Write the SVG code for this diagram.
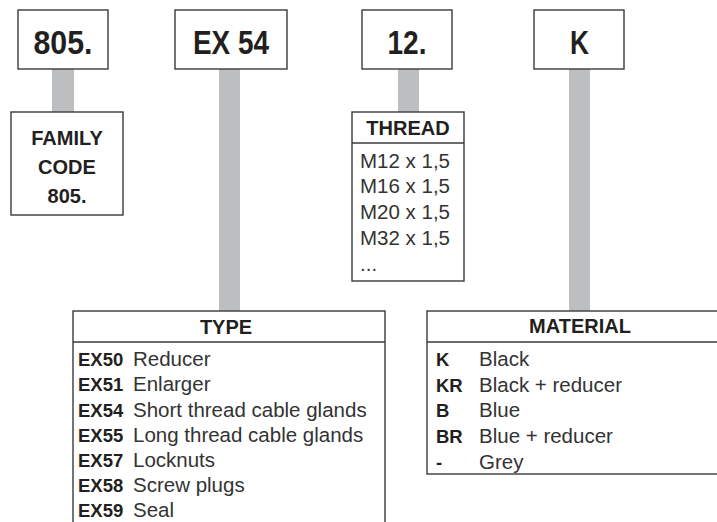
<svg xmlns="http://www.w3.org/2000/svg" width="717" height="522" viewBox="0 0 717 522">
<style>
.box{fill:#fff;stroke:#3a3a3a;stroke-width:1.4}
.bar{fill:#bcbec0}
.big{font-family:"Liberation Sans Narrow","Liberation Sans",Arial,sans-serif;font-weight:bold;font-size:34px;fill:#231f20;text-anchor:middle}
.hd{font-family:"Liberation Sans",Arial,sans-serif;font-weight:bold;font-size:20px;fill:#231f20;text-anchor:middle}
.cd{font-family:"Liberation Sans",Arial,sans-serif;font-weight:bold;font-size:18.5px;fill:#231f20}
.tx{font-family:"Liberation Sans",Arial,sans-serif;font-size:20.5px;fill:#333}
</style>
<g id="connectors">
<rect class="bar" x="52" y="69" width="22" height="43"/>
<rect class="bar" x="219" y="69" width="21" height="242"/>
<rect class="bar" x="398" y="69" width="21" height="43"/>
<rect class="bar" x="569" y="69" width="21" height="242"/>
</g>
<g id="code-805">
<rect class="box" x="18" y="10" width="90" height="59"/>
<text class="big" x="63" y="54" textLength="59" lengthAdjust="spacingAndGlyphs">805.</text>
</g>
<g id="code-ex54">
<rect class="box" x="175" y="10" width="112" height="59"/>
<text class="big" x="231" y="54" textLength="76" lengthAdjust="spacingAndGlyphs">EX 54</text>
</g>
<g id="code-12">
<rect class="box" x="362" y="10" width="90" height="59"/>
<text class="big" x="407" y="54" textLength="39" lengthAdjust="spacingAndGlyphs">12.</text>
</g>
<g id="code-k">
<rect class="box" x="534" y="10" width="90" height="59"/>
<text class="big" x="579.5" y="54" textLength="19" lengthAdjust="spacingAndGlyphs">K</text>
</g>
<g id="family">
<rect class="box" x="11" y="112" width="112" height="103"/>
<text class="hd" x="67" y="145">FAMILY</text>
<text class="hd" x="67" y="174">CODE</text>
<text class="hd" x="67" y="203">805.</text>
</g>
<g id="thread">
<rect class="box" x="352" y="112" width="112" height="169"/>
<line class="box" x1="352" y1="143" x2="464" y2="143"/>
<text class="hd" x="408" y="135">THREAD</text>
<text class="tx" x="360" y="168">M12 x 1,5</text>
<text class="tx" x="360" y="193">M16 x 1,5</text>
<text class="tx" x="360" y="219">M20 x 1,5</text>
<text class="tx" x="360" y="245">M32 x 1,5</text>
<text class="tx" x="360" y="271">...</text>
</g>
<g id="type">
<rect class="box" x="73" y="311" width="312" height="230"/>
<line class="box" x1="73" y1="342" x2="385" y2="342"/>
<text class="hd" x="226" y="334">TYPE</text>
<text x="78" y="366"><tspan class="cd">EX50</tspan><tspan class="tx" x="133">Reducer</tspan></text>
<text x="78" y="391"><tspan class="cd">EX51</tspan><tspan class="tx" x="133">Enlarger</tspan></text>
<text x="78" y="416.5"><tspan class="cd">EX54</tspan><tspan class="tx" x="133">Short thread cable glands</tspan></text>
<text x="78" y="441.5"><tspan class="cd">EX55</tspan><tspan class="tx" x="133">Long thread cable glands</tspan></text>
<text x="78" y="467"><tspan class="cd">EX57</tspan><tspan class="tx" x="133">Locknuts</tspan></text>
<text x="78" y="492"><tspan class="cd">EX58</tspan><tspan class="tx" x="133">Screw plugs</tspan></text>
<text x="78" y="516.5"><tspan class="cd">EX59</tspan><tspan class="tx" x="133">Seal</tspan></text>
</g>
<g id="material">
<rect class="box" x="427" y="311" width="320" height="163"/>
<line class="box" x1="427" y1="342" x2="747" y2="342"/>
<text class="hd" x="580" y="333">MATERIAL</text>
<text x="436" y="366"><tspan class="cd">K</tspan><tspan class="tx" x="479">Black</tspan></text>
<text x="436" y="392"><tspan class="cd">KR</tspan><tspan class="tx" x="479">Black + reducer</tspan></text>
<text x="436" y="417"><tspan class="cd">B</tspan><tspan class="tx" x="479">Blue</tspan></text>
<text x="436" y="443"><tspan class="cd">BR</tspan><tspan class="tx" x="479">Blue + reducer</tspan></text>
<text x="436" y="469"><tspan class="cd">-</tspan><tspan class="tx" x="479">Grey</tspan></text>
</g>
</svg>
